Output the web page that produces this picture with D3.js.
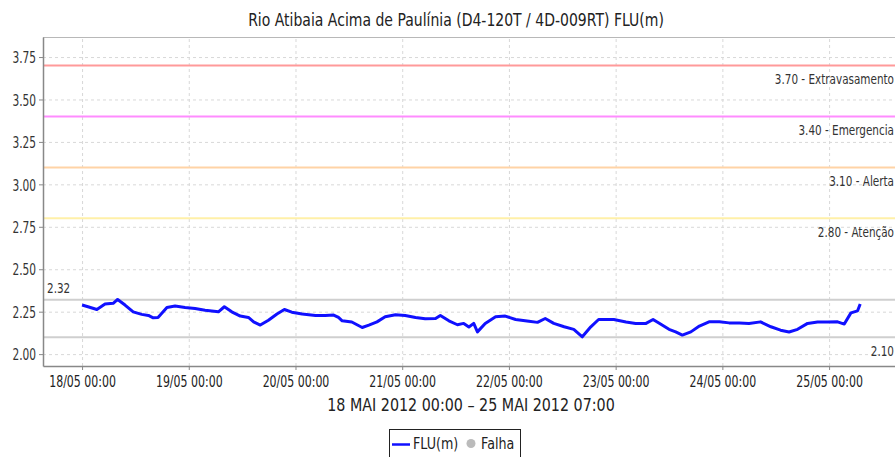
<!DOCTYPE html>
<html>
<head>
<meta charset="utf-8">
<script src="https://cdn.jsdelivr.net/npm/d3@7"></script>
<style>
    body { margin: 0; background: #fff; overflow: hidden; }
    svg { display: block; }
    .cond { font-family: 'DejaVu Sans Condensed', 'DejaVu Sans', sans-serif; font-stretch: condensed; }
    .reg { font-family: 'DejaVu Sans', sans-serif; }
</style>
</head>
<body>
<svg id="chart"></svg>
<script>
const WIDTH = 895;
const HEIGHT = 457;
const PLOT = { left: 43, top: 37, right: 898, bottom: 366 };
const SY = 1.27; // the source picture is stretched vertically
const LABEL_END = 894;

// level readings (FLU, metres)
const times = [
    '2012-05-18 00:00', '2012-05-18 01:20', '2012-05-18 03:20', '2012-05-18 05:10',
    '2012-05-18 07:00', '2012-05-18 08:00', '2012-05-18 09:40', '2012-05-18 11:30',
    '2012-05-18 13:25', '2012-05-18 14:55', '2012-05-18 16:00', '2012-05-18 17:05',
    '2012-05-18 19:05', '2012-05-18 20:55', '2012-05-18 23:10', '2012-05-19 01:25',
    '2012-05-19 03:40', '2012-05-19 06:40', '2012-05-19 08:00', '2012-05-19 09:40',
    '2012-05-19 11:35', '2012-05-19 13:25', '2012-05-19 14:35', '2012-05-19 16:05',
    '2012-05-19 17:55', '2012-05-19 19:50', '2012-05-19 21:30', '2012-05-19 23:10',
    '2012-05-20 01:30', '2012-05-20 04:30', '2012-05-20 06:40', '2012-05-20 08:35',
    '2012-05-20 09:40', '2012-05-20 10:30', '2012-05-20 12:40', '2012-05-20 15:00',
    '2012-05-20 16:30', '2012-05-20 18:20', '2012-05-20 20:10', '2012-05-20 22:30',
    '2012-05-21 00:40', '2012-05-21 03:00', '2012-05-21 05:10', '2012-05-21 07:30',
    '2012-05-21 08:35', '2012-05-21 10:30', '2012-05-21 12:25', '2012-05-21 13:50',
    '2012-05-21 15:00', '2012-05-21 16:05', '2012-05-21 16:55', '2012-05-21 18:40',
    '2012-05-21 21:00', '2012-05-21 23:10', '2012-05-22 01:30', '2012-05-22 04:30',
    '2012-05-22 06:25', '2012-05-22 08:10', '2012-05-22 10:05', '2012-05-22 12:25',
    '2012-05-22 14:35', '2012-05-22 16:30', '2012-05-22 18:25', '2012-05-22 20:10',
    '2012-05-22 21:25', '2012-05-22 23:35', '2012-05-23 02:20', '2012-05-23 04:30',
    '2012-05-23 06:50', '2012-05-23 08:25', '2012-05-23 10:05', '2012-05-23 12:00',
    '2012-05-23 13:30', '2012-05-23 15:00', '2012-05-23 16:55', '2012-05-23 18:50',
    '2012-05-23 21:00', '2012-05-23 23:20', '2012-05-24 01:30', '2012-05-24 03:50',
    '2012-05-24 06:00', '2012-05-24 08:35', '2012-05-24 10:55', '2012-05-24 13:05',
    '2012-05-24 15:00', '2012-05-24 16:55', '2012-05-24 19:10', '2012-05-24 21:25',
    '2012-05-24 23:40', '2012-05-25 01:55', '2012-05-25 03:25', '2012-05-25 04:55',
    '2012-05-25 06:25', '2012-05-25 07:00'
];
const levels = [
    2.289, 2.279, 2.263, 2.295, 2.299, 2.322, 2.289, 2.249,
    2.234, 2.228, 2.214, 2.216, 2.275, 2.283, 2.275, 2.269,
    2.259, 2.249, 2.279, 2.249, 2.224, 2.216, 2.190, 2.171,
    2.200, 2.236, 2.263, 2.247, 2.236, 2.228, 2.228, 2.230,
    2.216, 2.196, 2.189, 2.157, 2.171, 2.190, 2.220, 2.232,
    2.228, 2.216, 2.208, 2.210, 2.228, 2.196, 2.173, 2.181,
    2.160, 2.181, 2.131, 2.181, 2.220, 2.224, 2.204, 2.193,
    2.187, 2.210, 2.181, 2.161, 2.146, 2.102, 2.161, 2.204,
    2.204, 2.204, 2.189, 2.181, 2.181, 2.204, 2.177, 2.146,
    2.131, 2.112, 2.131, 2.165, 2.190, 2.190, 2.184, 2.184,
    2.181, 2.190, 2.161, 2.141, 2.130, 2.146, 2.181, 2.189,
    2.189, 2.190, 2.177, 2.243, 2.255, 2.295
];

// alarm thresholds
const thresholdValues = [3.70, 3.40, 3.10, 2.80];
const thresholdNames = ['Extravasamento', 'Emergencia', 'Alerta', 'Atenção'];
const thresholdColors = ['#ff9a9a', '#ff8cff', '#ffd3a6', '#fff0a8'];

const maxLevel = 2.32;
const minLevel = 2.10;

const yTicks = [2.00, 2.25, 2.50, 2.75, 3.00, 3.25, 3.50, 3.75];
const xTicks = [
    '2012-05-18 00:00', '2012-05-19 00:00', '2012-05-20 00:00', '2012-05-21 00:00',
    '2012-05-22 00:00', '2012-05-23 00:00', '2012-05-24 00:00', '2012-05-25 00:00'
];
const xDomain = ['2012-05-17 15:13', '2012-05-25 15:30'];
const yDomain = [1.93, 3.868];

const titleText = 'Rio Atibaia Acima de Paulínia (D4-120T / 4D-009RT) FLU(m)';
const xLabelText = '18 MAI 2012 00:00 \u2013 25 MAI 2012 07:00';
const legendLabels = ['FLU(m)', 'Falha'];

const parseTime = d3.timeParse('%Y-%m-%d %H:%M');
const points = times.map((t, i) => ({ date: parseTime(t), value: levels[i] }));

const svg = d3.select('#chart').attr('width', WIDTH).attr('height', HEIGHT);

const x = d3.scaleTime()
    .domain(xDomain.map(parseTime))
    .range([PLOT.left, PLOT.right]);

const y = d3.scaleLinear()
    .domain(yDomain)
    .range([PLOT.bottom, PLOT.top]);

// place a text stretched vertically like the source image
function stretchedText(parent, px, py, str, cls, size, anchor) {
    return parent.append('text')
        .attr('class', cls)
        .attr('transform', `translate(${px},${py}) scale(1,${SY})`)
        .attr('text-anchor', anchor)
        .attr('font-size', size)
        .attr('fill', '#333')
        .text(str);
}

// grid
svg.append('g')
    .attr('transform', `translate(0,${PLOT.bottom})`)
    .call(d3.axisBottom(x).tickValues(xTicks.map(parseTime))
        .tickSize(-(PLOT.bottom - PLOT.top)).tickFormat(''))
    .call((g) => g.select('.domain').remove())
    .selectAll('line')
    .attr('stroke', '#d8d8d8')
    .attr('stroke-dasharray', '3,3');

svg.append('g')
    .attr('transform', `translate(${PLOT.left},0)`)
    .call(d3.axisLeft(y).tickValues(yTicks)
        .tickSize(-(PLOT.right - PLOT.left)).tickFormat(''))
    .call((g) => g.select('.domain').remove())
    .selectAll('line')
    .attr('stroke', '#d8d8d8')
    .attr('stroke-dasharray', '3,3');

// threshold lines
thresholdValues.forEach((v, i) => {
    svg.append('line')
        .attr('x1', PLOT.left).attr('x2', PLOT.right)
        .attr('y1', y(v)).attr('y2', y(v))
        .attr('stroke', thresholdColors[i])
        .attr('stroke-width', 2);
    stretchedText(svg, LABEL_END, y(v) + 18.5, `${v.toFixed(2)} - ${thresholdNames[i]}`,
        'cond', 11.6, 'end');
});

// max / min reference lines
[maxLevel, minLevel].forEach((v) => {
    svg.append('line')
        .attr('x1', PLOT.left).attr('x2', PLOT.right)
        .attr('y1', y(v)).attr('y2', y(v))
        .attr('stroke', '#cfcfcf')
        .attr('stroke-width', 2);
});
stretchedText(svg, 47, y(maxLevel) - 6.7, maxLevel.toFixed(2), 'cond', 11.6, 'start');
stretchedText(svg, LABEL_END, y(minLevel) + 19, minLevel.toFixed(2), 'cond', 11.6, 'end');

// series
const line = d3.line()
    .x((d) => x(d.date))
    .y((d) => y(d.value));

svg.append('path')
    .datum(points)
    .attr('d', line)
    .attr('fill', 'none')
    .attr('stroke', '#1010ff')
    .attr('stroke-width', 3)
    .attr('stroke-linejoin', 'round');

// frame and axes
svg.append('line')
    .attr('x1', PLOT.left).attr('x2', PLOT.right)
    .attr('y1', PLOT.top + 0.5).attr('y2', PLOT.top + 0.5)
    .attr('stroke', '#b8b8b8');

const yAxis = svg.append('g')
    .attr('transform', `translate(${PLOT.left},0)`)
    .call(d3.axisLeft(y).tickValues(yTicks).tickSize(4).tickSizeOuter(0)
        .tickFormat(d3.format('.2f')));
yAxis.select('.domain').attr('stroke', '#888').attr('stroke-width', 1.5);
yAxis.selectAll('.tick line').attr('stroke', '#888');
yAxis.selectAll('.tick text')
    .attr('class', 'cond')
    .attr('font-size', 11.8)
    .attr('fill', '#333')
    .attr('x', -7)
    .attr('dy', null)
    .attr('y', 0)
    .attr('transform', `scale(1,${SY * 1.1})`)
    .attr('dominant-baseline', 'central');

const xAxis = svg.append('g')
    .attr('transform', `translate(0,${PLOT.bottom})`)
    .call(d3.axisBottom(x).tickValues(xTicks.map(parseTime)).tickSize(4).tickSizeOuter(0)
        .tickFormat(d3.timeFormat('%d/%m %H:%M')));
xAxis.select('.domain').attr('stroke', '#888').attr('stroke-width', 1.5);
xAxis.selectAll('.tick line').attr('stroke', '#888');
xAxis.selectAll('.tick text')
    .attr('class', 'cond')
    .attr('font-size', 12.2)
    .attr('fill', '#222')
    .attr('dy', null)
    .attr('y', 21 / SY)
    .attr('transform', `scale(1,${SY})`);

// titles
stretchedText(svg, 456, 26, titleText, 'reg', 14, 'middle').attr('fill', '#222');
stretchedText(svg, 471, 411, xLabelText, 'reg', 14.3, 'middle').attr('fill', '#222');

// legend
const legend = svg.append('g');
legend.append('rect')
    .attr('x', 389.5).attr('y', 429.5)
    .attr('width', 131).attr('height', 40)
    .attr('fill', '#fff')
    .attr('stroke', '#222');
legend.append('line')
    .attr('x1', 392).attr('x2', 410)
    .attr('y1', 444.5).attr('y2', 444.5)
    .attr('stroke', '#1010ff')
    .attr('stroke-width', 2.5);
stretchedText(legend, 413, 448.5, legendLabels[0], 'reg', 12.7, 'start').attr('fill', '#222');
legend.append('circle')
    .attr('cx', 471).attr('cy', 443.5).attr('r', 4.5)
    .attr('fill', '#bbb');
stretchedText(legend, 481, 448.5, legendLabels[1], 'reg', 12.7, 'start').attr('fill', '#222');
</script>
</body>
</html>
